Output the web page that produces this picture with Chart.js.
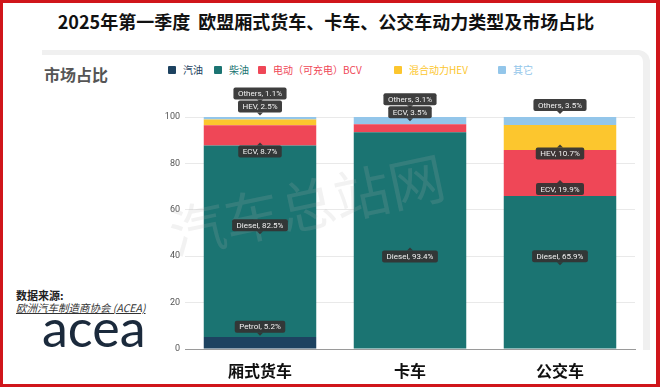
<!DOCTYPE html>
<html>
<head>
<meta charset="utf-8">
<script src="https://cdn.jsdelivr.net/npm/chart.js@4.4.1/dist/chart.umd.min.js"></script>
<style>
  html, body { margin: 0; padding: 0; }
  body { width: 660px; height: 387px; position: relative; overflow: hidden; background: #fff; font-family: 'Noto Sans CJK SC', sans-serif; }
  .frame { position: absolute; left: 0; top: 0; width: 660px; height: 387px; box-sizing: border-box; border: 3px solid #d0161b; border-right-width: 4px; z-index: 5; pointer-events: none; }
  .title { position: absolute; left: 0; width: 652px; top: 8px; text-align: center; font-size: 18px; font-weight: 700; color: #111; line-height: 26px; white-space: pre; }
  .track { position: absolute; left: 42px; top: 50px; width: 608px; height: 300px; box-sizing: border-box; border-top: 5px solid #f0f0f0; border-right: 7px solid #f0f0f0; border-top-right-radius: 12px; }
  .subtitle { position: absolute; left: 44px; top: 62px; font-size: 16px; font-weight: 700; color: #555; line-height: 24px; }
  #legend { position: absolute; left: 168px; top: 62px; height: 16px; display: flex; }
  .item { display: flex; align-items: center; font-size: 10px; line-height: 16px; }
  .box { width: 8px; height: 8px; border-radius: 1px; margin-right: 7px; }
  .src1 { position: absolute; left: 16px; top: 287px; font-size: 11px; font-weight: 700; color: #222; line-height: 16px; }
  .src2 { position: absolute; left: 16px; top: 300px; font-size: 10.5px; font-style: italic; text-decoration: underline; color: #333; line-height: 16px; }
  .logo { position: absolute; left: 42px; top: 301px; font-family: Lato, sans-serif; font-size: 52px; line-height: 52px; color: #1b2a3c; }
  #chartBox { position: absolute; left: 140px; top: 80px; }
</style>
</head>
<body>
<div class="title">2025年第一季度  欧盟厢式货车、卡车、公交车动力类型及市场占比</div>
<div class="track"></div>
<div class="subtitle">市场占比</div>
<div id="legend"></div>
<div class="src1">数据来源:</div>
<div class="src2">欧洲汽车制造商协会 (ACEA)</div>
<div class="logo">acea</div>
<div id="chartBox"><canvas id="mixChart" width="510" height="304"></canvas></div>
<div class="frame"></div>
<script>
const categories = ['厢式货车', '卡车', '公交车'];
const seriesNames = ['汽油', '柴油', '电动（可充电）BCV', '混合动力HEV', '其它'];
const shortNames = ['Petrol', 'Diesel', 'ECV', 'HEV', 'Others'];
const petrol = [5.2, 0, 0];
const diesel = [82.5, 93.4, 65.9];
const ecv = [8.7, 3.5, 19.9];
const hev = [2.5, 0, 10.7];
const others = [1.1, 3.1, 3.5];
const yTicks = [0, 20, 40, 60, 80, 100];

const colors = ['#1d4260', '#1b7472', '#ef4757', '#fcc62e', '#93c6ea'];
const legendWidths = [46, 44, 136, 104, 60];

// which side of the segment the callout sits on (-1 above, 1 below)
const calloutSides = [
  [-1, -1, 1, -1, -1],
  [-1, 1, -1, -1, -1],
  [-1, -1, 1, 1, -1]
];

// html legend
const legend = document.getElementById('legend');
seriesNames.forEach((name, i) => {
  const item = document.createElement('div');
  item.className = 'item';
  item.style.width = legendWidths[i] + 'px';
  item.style.color = colors[i];
  item.innerHTML = `<span class="box" style="background:${colors[i]}"></span>${name}`;
  legend.appendChild(item);
});

const calloutPlugin = {
  id: 'callouts',
  afterDatasetsDraw(chart) {
    const ctx = chart.ctx;
    const area = chart.chartArea;
    ctx.save();

    // watermark
    ctx.translate(area.left + 122, area.top + 88);
    ctx.rotate(-12 * Math.PI / 180);
    ctx.font = '56px "Noto Sans CJK SC"';
    ctx.fillStyle = 'rgba(175,175,175,0.17)';
    ctx.textAlign = 'center';
    ctx.textBaseline = 'middle';
    ctx.fillText('汽车总站网', 0, 0);
    ctx.setTransform(1, 0, 0, 1, 0, 0);

    ctx.font = '8px Roboto';
    categories.forEach((c, j) => {
      let lastTop = Infinity;
      chart.data.datasets.forEach((ds, i) => {
        const v = ds.data[j];
        if (!v) return;
        const el = chart.getDatasetMeta(i).data[j];
        const mid = (el.y + el.base) / 2;
        const side = calloutSides[j][i];
        const text = shortNames[i] + ', ' + v + '%';
        const w = ctx.measureText(text).width + 9;
        const h = 12;
        let cy = mid + side * 16;
        if (cy + h / 2 > lastTop - 1) cy = lastTop - 1 - h / 2;
        lastTop = cy - h / 2;
        const x = el.x;
        ctx.fillStyle = 'rgba(52,52,52,0.95)';
        ctx.beginPath();
        ctx.roundRect(x - w / 2, cy - h / 2, w, h, 2);
        ctx.fill();
        ctx.beginPath();
        if (side < 0) {
          ctx.moveTo(x - 3, cy + h / 2);
          ctx.lineTo(x + 3, cy + h / 2);
          ctx.lineTo(x, cy + h / 2 + 3);
        } else {
          ctx.moveTo(x - 3, cy - h / 2);
          ctx.lineTo(x + 3, cy - h / 2);
          ctx.lineTo(x, cy - h / 2 - 3);
        }
        ctx.fill();
        ctx.fillStyle = '#f2f2f2';
        ctx.textAlign = 'center';
        ctx.textBaseline = 'middle';
        ctx.fillText(text, x, cy + 0.5);
      });
    });
    ctx.restore();
  }
};

const values = [petrol, diesel, ecv, hev, others];

new Chart(document.getElementById('mixChart'), {
  type: 'bar',
  data: {
    labels: categories,
    datasets: values.map((data, i) => ({
      label: seriesNames[i],
      data: data,
      backgroundColor: colors[i],
      borderWidth: 0,
      barPercentage: 0.75,
      categoryPercentage: 1
    }))
  },
  options: {
    responsive: false,
    animation: false,
    devicePixelRatio: 1,
    layout: { padding: { top: 37, right: 15, left: 0, bottom: 0 } },
    plugins: {
      legend: { display: false },
      tooltip: { enabled: false }
    },
    scales: {
      x: {
        stacked: true,
        grid: { display: false },
        border: { color: '#9a9a9a', width: 1 },
        ticks: {
          padding: 4,
          color: '#111',
          font: { family: 'Noto Sans CJK SC', size: 16, weight: 'bold', lineHeight: 1.2 }
        },
        afterFit: scale => { scale.height = 35; }
      },
      y: {
        stacked: true,
        min: 0,
        max: 100,
        afterBuildTicks: scale => { scale.ticks = yTicks.map(v => ({ value: v })); },
        grid: { color: '#e9e9e9', drawTicks: false },
        border: { display: false },
        ticks: {
          padding: 5,
          color: '#555',
          font: { family: 'Roboto', size: 9 }
        },
        afterFit: scale => { scale.width = 45; }
      }
    }
  },
  plugins: [calloutPlugin]
});
</script>
</body>
</html>
